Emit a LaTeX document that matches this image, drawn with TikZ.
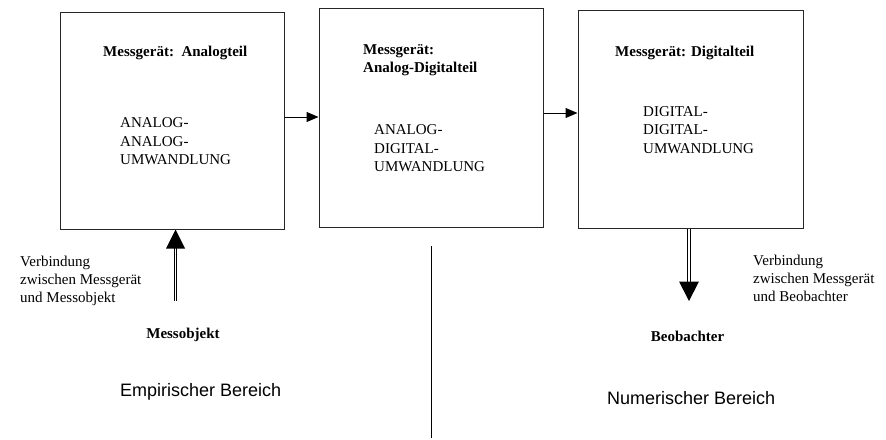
\documentclass[tikz,border=0pt]{standalone}
\usepackage{fontspec}
\setmainfont{Liberation Serif}
\newfontfamily\arialfont{Liberation Sans}
\usetikzlibrary{arrows.meta}
\tikzset{
  blockbox/.style={draw=black!85, line width=1pt, inner sep=0pt},
  ttl/.style={font=\fontsize{15}{18}\selectfont\bfseries, inner sep=0pt, align=left},
  body/.style={font=\fontsize{15}{18.5}\selectfont, inner sep=0pt, align=left, anchor=west},
  note/.style={font=\fontsize{15}{18}\selectfont, inner sep=0pt, align=left, anchor=west},
  area/.style={font=\arialfont\fontsize{18}{21}\selectfont, inner sep=0pt, anchor=west},
  flow/.style={line width=1pt, -{Triangle[length=12pt,width=10pt]}},
  dbl/.style={draw=black, line width=0.9pt, double, double distance=1.6pt},
  headtri/.style={fill=black}
}
\begin{document}
\begin{tikzpicture}[x=1pt,y=-1pt]
\useasboundingbox (0,0) rectangle (886,439);
% boxes
\node[blockbox, minimum width=224pt, minimum height=217pt] (b1) at (172,120.5) {};
\node[blockbox, minimum width=224pt, minimum height=219pt] (b2) at (431,117.5) {};
\node[blockbox, minimum width=225pt, minimum height=218pt] (b3) at (690.5,119) {};
% titles
\node[ttl, anchor=west] (t1) at (103,53) {Messgerät:\ \ Analogteil};
\node[ttl, anchor=west] (t2) at (363,60.5) {Messgerät:\\Analog-Digitalteil};
\node[ttl, anchor=west] (t3) at (615,53) {Messgerät: Digitalteil};
% body texts
\node[body] (u1) at (120,141.5) {ANALOG-\\ANALOG-\\UMWANDLUNG};
\node[body] (u2) at (374,148.5) {ANALOG-\\DIGITAL-\\UMWANDLUNG};
\node[body] (u3) at (643,130) {DIGITAL-\\DIGITAL-\\UMWANDLUNG};
% horizontal connectors
\draw[flow] (b1.east |- 0,117) -- (b2.west |- 0,117);
\draw[flow] (b2.east |- 0,113) -- (b3.west |- 0,113);
% measurement object
\node[ttl, anchor=center] (mo) at (183,335) {Messobjekt};
\coordinate (mostart) at (175.5,301);
\coordinate (mohead) at (175.5,248);
\draw[dbl] (mostart) -- (mohead);
\fill[headtri] (b1.south -| 175.5,0) -- (166,248.5) -- (185,248.5) -- cycle;
\node[note] (n1) at (20,281) {Verbindung\\zwischen Messgerät\\und Messobjekt};
% observer
\node[ttl, anchor=center] (bo) at (687.5,336) {Beobachter};
\coordinate (botip) at (689,301);
\coordinate (bohead) at (689,282);
\draw[dbl] (b3.south -| 689,0) -- (bohead);
\fill[headtri] (botip) -- (679,281.5) -- (699,281.5) -- cycle;
\node[note] (n2) at (753,278) {Verbindung\\zwischen Messgerät\\und Beobachter};
% areas
\node[area] (e1) at (120,392) {Empirischer Bereich};
\node[area] (e2) at (607,398) {Numerischer Bereich};
% divider
\coordinate (dtop) at (431,246);
\coordinate (dbot) at (431,438);
\draw[line width=1pt] (dtop) -- (dbot);
\end{tikzpicture}
\end{document}
